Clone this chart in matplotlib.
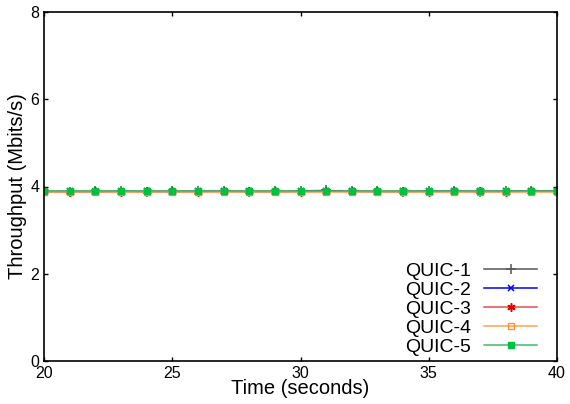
import numpy as np
import matplotlib.pyplot as plt

# throughput per second for each QUIC flow
time_s = list(range(20, 41))
quic1 = [3.89, 3.88, 3.89, 3.89, 3.88, 3.89, 3.89, 3.89, 3.88, 3.89, 3.90,
         3.91, 3.89, 3.89, 3.88, 3.90, 3.89, 3.88, 3.90, 3.89, 3.90]
quic2 = [3.88, 3.89, 3.88, 3.89, 3.89, 3.88, 3.89, 3.89, 3.89, 3.88, 3.89,
         3.90, 3.89, 3.88, 3.89, 3.89, 3.89, 3.89, 3.89, 3.90, 3.89]
quic3 = [3.89, 3.88, 3.89, 3.88, 3.89, 3.89, 3.88, 3.89, 3.89, 3.89, 3.88,
         3.89, 3.89, 3.89, 3.89, 3.88, 3.89, 3.89, 3.88, 3.89, 3.89]
quic4 = [3.88, 3.88, 3.88, 3.88, 3.88, 3.88, 3.88, 3.88, 3.88, 3.88, 3.88,
         3.88, 3.88, 3.88, 3.88, 3.88, 3.88, 3.88, 3.88, 3.88, 3.88]
quic5 = [3.89, 3.89, 3.89, 3.89, 3.89, 3.89, 3.89, 3.89, 3.89, 3.89, 3.89,
         3.89, 3.89, 3.89, 3.89, 3.89, 3.89, 3.89, 3.89, 3.89, 3.89]

names = ["QUIC-1", "QUIC-2", "QUIC-3", "QUIC-4", "QUIC-5"]

plt.rcParams["font.family"] = "Liberation Sans"
fig = plt.figure(figsize=(5.7, 4.04), dpi=100)
ax = fig.add_axes([44 / 570, 43 / 404, 513 / 570, 349 / 404])

ax.plot(time_s, quic1, color="#555555", lw=1.1, marker="+", ms=6.5, mew=1.1, label=names[0])
ax.plot(time_s, quic2, color="#0000ff", lw=1.1, marker="x", ms=5, mew=1.1, label=names[1])
ax.plot(time_s, quic3, color="#e05050", lw=1.1, marker=(6, 2, 0), ms=6, mew=1.1,
        markeredgecolor="#e00000", label=names[2])
ax.plot(time_s, quic4, color="#ffa050", lw=1.1, marker="s", ms=5, mfc="none",
        mec="#ff9030", mew=1.0, label=names[3])
ax.plot(time_s, quic5, color="#40c060", lw=1.1, marker="s", ms=5,
        mfc="#00c040", mec="#00c040", label=names[4])

ax.set_xlim(20, 40)
ax.set_ylim(0, 8)
ax.set_xticks([20, 25, 30, 35, 40])
ax.set_yticks([0, 2, 4, 6, 8])
ax.tick_params(direction="in", top=True, right=True, length=3, width=1,
               labelsize=11.5, pad=3.5)
for s in ax.spines.values():
    s.set_linewidth(1.2)

ax.set_xlabel("Time (seconds)", fontsize=14.5, labelpad=-1)
ax.set_ylabel("Throughput (Mbits/s)", fontsize=14.5, labelpad=2)

ax.legend(loc="lower right", bbox_to_anchor=(0.961, 0.014), frameon=False,
          markerfirst=False, fontsize=14, handlelength=2.7, handletextpad=0.7,
          labelspacing=0.07, borderpad=0, borderaxespad=0)

fig.savefig("out.png", dpi=100)
